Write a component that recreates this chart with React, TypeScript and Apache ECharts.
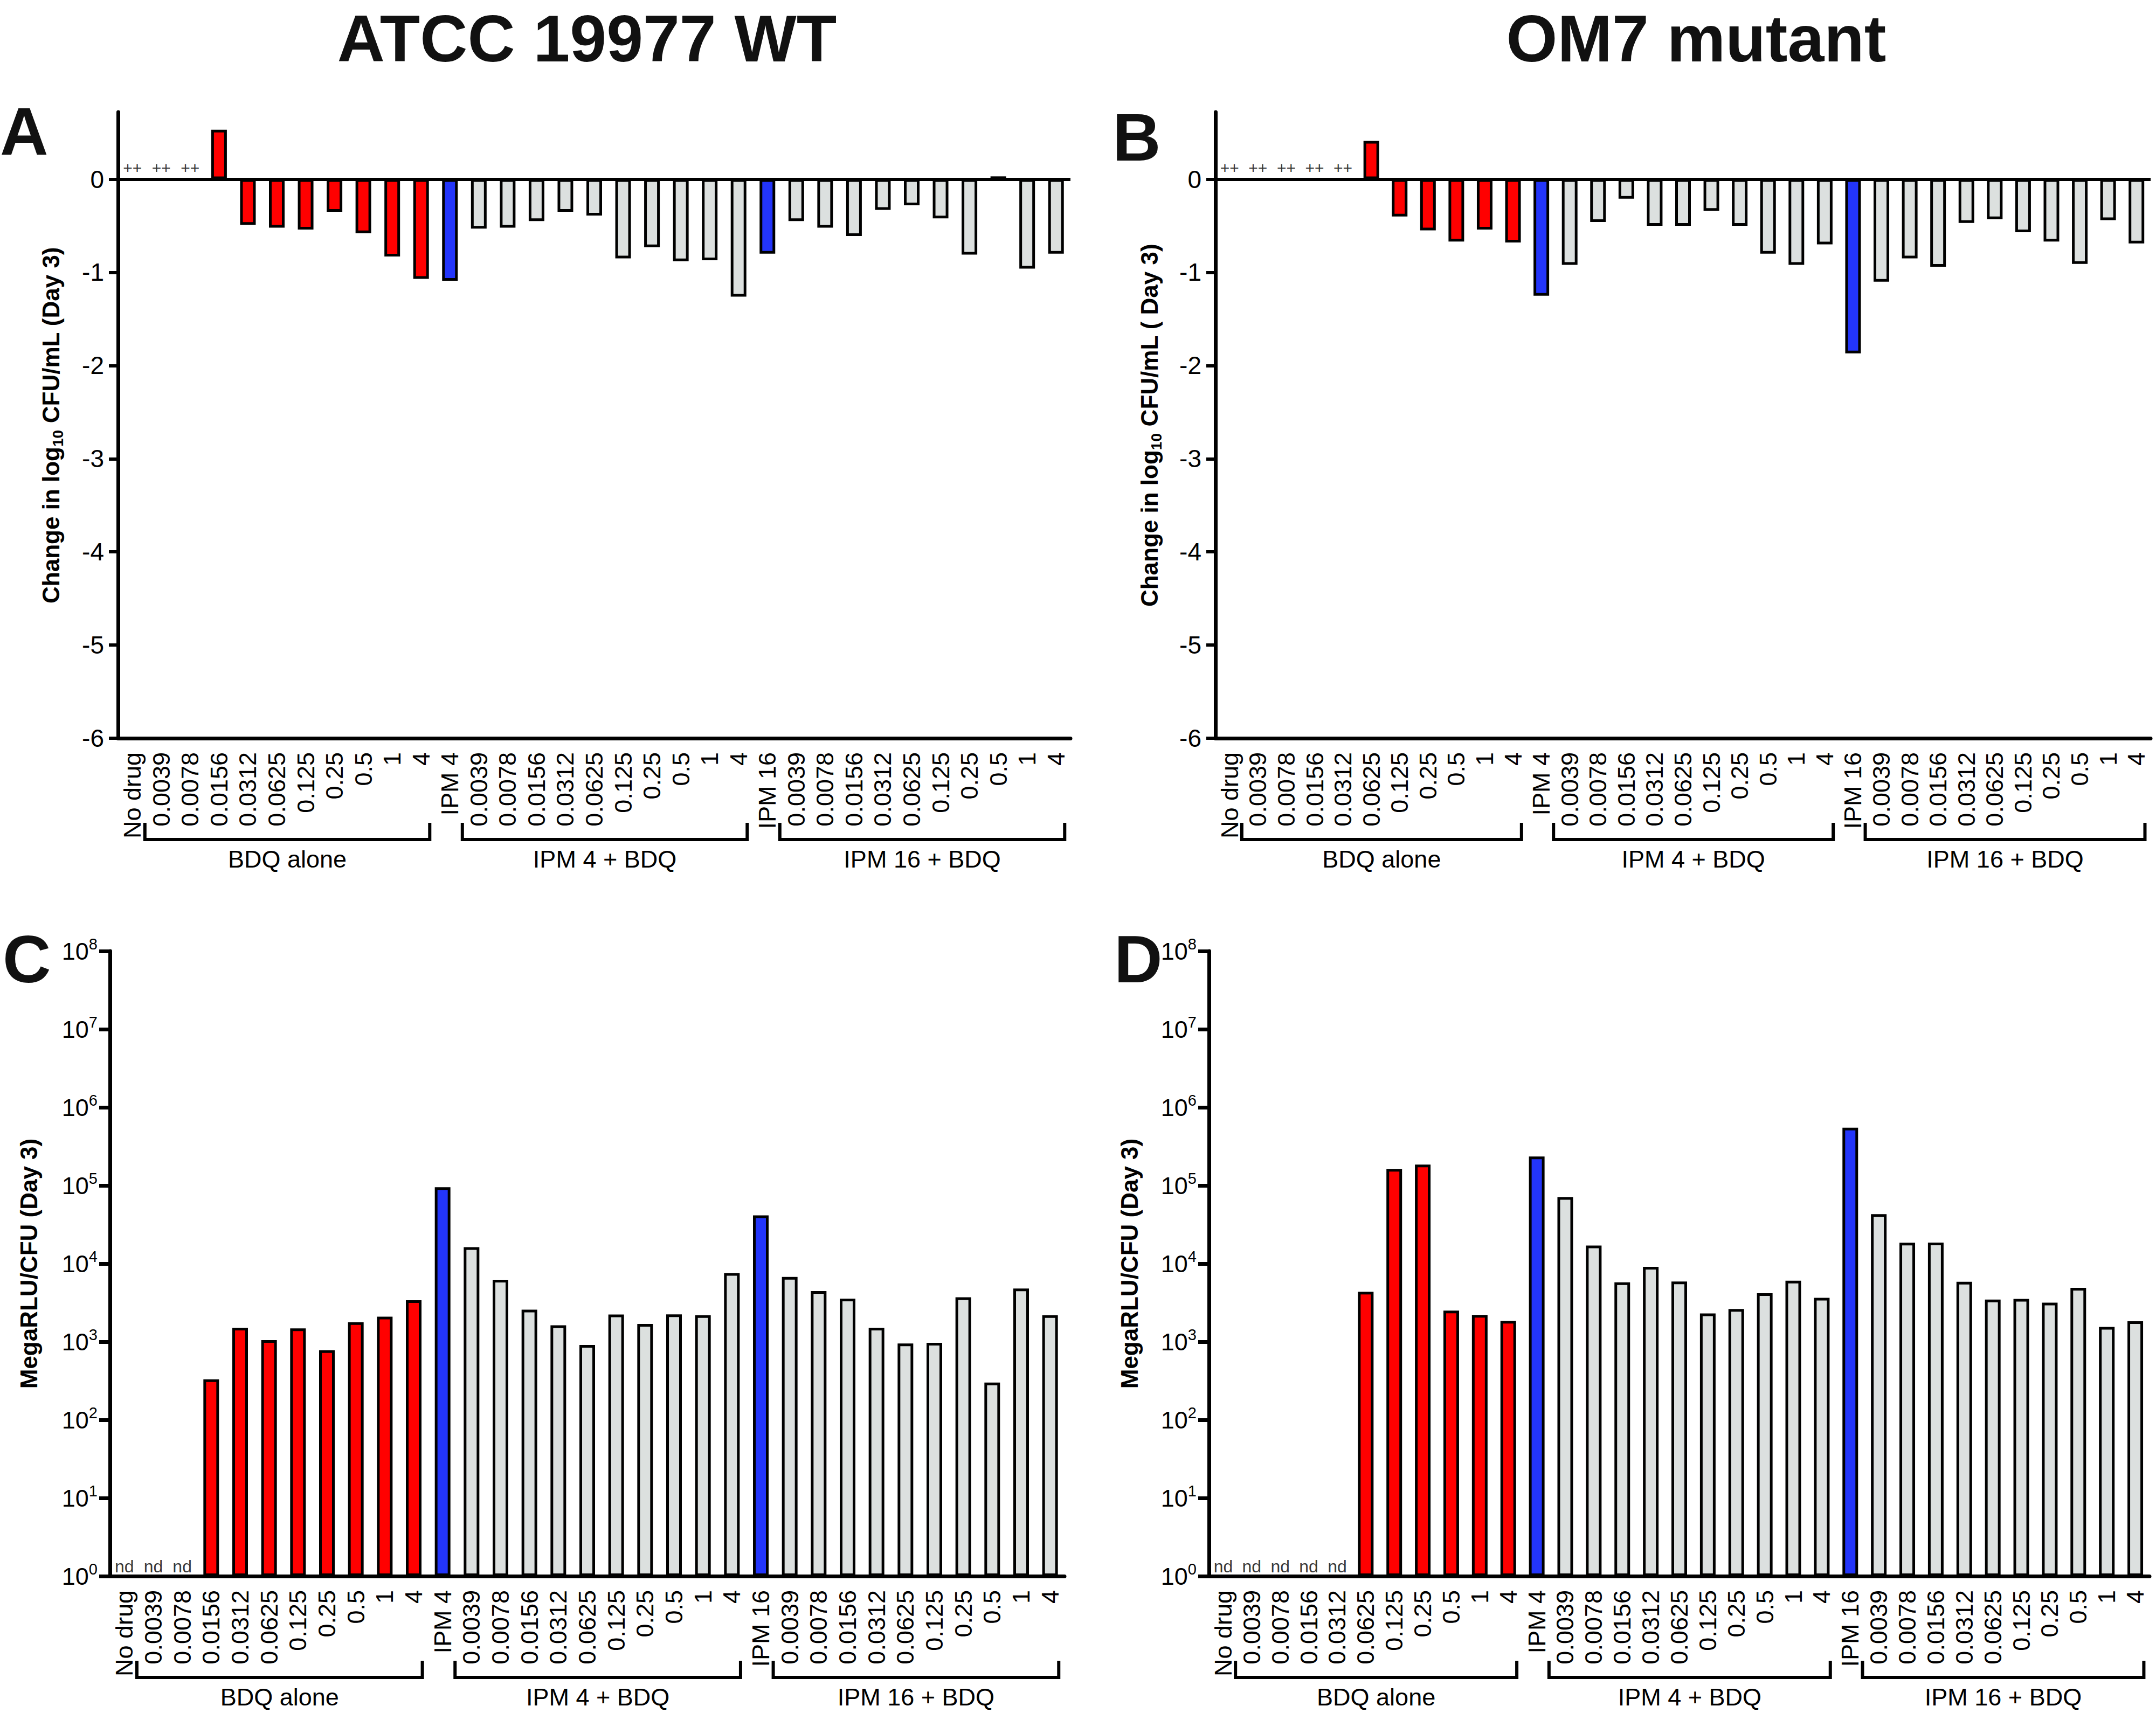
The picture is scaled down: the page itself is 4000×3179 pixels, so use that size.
import React, { useEffect, useRef } from 'react';
import * as echarts from 'echarts';

// ---------- data ----------
const CATEGORIES = [
  'No drug', '0.0039', '0.0078', '0.0156', '0.0312', '0.0625', '0.125', '0.25', '0.5', '1', '4',
  'IPM 4', '0.0039', '0.0078', '0.0156', '0.0312', '0.0625', '0.125', '0.25', '0.5', '1', '4',
  'IPM 16', '0.0039', '0.0078', '0.0156', '0.0312', '0.0625', '0.125', '0.25', '0.5', '1', '4',
];

// kind of treatment per category (drives the colour)
const BAR_KIND = [
  'ctrl', 'bdq', 'bdq', 'bdq', 'bdq', 'bdq', 'bdq', 'bdq', 'bdq', 'bdq', 'bdq',
  'ipm', 'combo', 'combo', 'combo', 'combo', 'combo', 'combo', 'combo', 'combo', 'combo', 'combo',
  'ipm', 'combo', 'combo', 'combo', 'combo', 'combo', 'combo', 'combo', 'combo', 'combo', 'combo',
];

// Panel A: ATCC 19977 WT, change in log10 CFU/mL (Day 3)
const A_VALUES = [
  null, null, null, 0.53, -0.49, -0.52, -0.54, -0.35, -0.58, -0.83, -1.07,
  -1.09, -0.53, -0.52, -0.45, -0.35, -0.39, -0.85, -0.73, -0.88, -0.87, -1.26,
  -0.80, -0.45, -0.52, -0.61, -0.33, -0.28, -0.42, -0.81, 0.03, -0.96, -0.80,
];
const A_MARKS = ['++', '++', '++'];

// Panel B: OM7 mutant, change in log10 CFU/mL (Day 3)
const B_VALUES = [
  null, null, null, null, null, 0.41, -0.40, -0.55, -0.67, -0.54, -0.68,
  -1.25, -0.92, -0.46, -0.21, -0.50, -0.50, -0.34, -0.50, -0.80, -0.92, -0.70,
  -1.87, -1.10, -0.85, -0.94, -0.47, -0.43, -0.57, -0.67, -0.91, -0.44, -0.69,
];
const B_MARKS = ['++', '++', '++', '++', '++'];

// Panel C: ATCC 19977 WT, MegaRLU/CFU (Day 3)
const C_VALUES = [
  null, null, null, 330, 1510, 1050, 1480, 780, 1780, 2090, 3390,
  95000, 16200, 6200, 2570, 1620, 910, 2230, 1690, 2240, 2190, 7580,
  41500, 6760, 4450, 3560, 1510, 950, 970, 3700, 300, 4800, 2190,
];
const C_MARKS = ['nd', 'nd', 'nd'];

// Panel D: OM7 mutant, MegaRLU/CFU (Day 3)
const D_VALUES = [
  null, null, null, null, null, 4370, 163000, 185000, 2500, 2200, 1850,
  235000, 71000, 17000, 5760, 9100, 5890, 2300, 2620, 4170, 6030, 3650,
  550000, 43000, 18500, 18600, 5860, 3460, 3540, 3160, 4900, 1550, 1830,
];
const D_MARKS = ['nd', 'nd', 'nd', 'nd', 'nd'];

const GROUPS = [
  { label: 'BDQ alone', from: 1, to: 10 },
  { label: 'IPM 4 + BDQ', from: 12, to: 21 },
  { label: 'IPM 16 + BDQ', from: 23, to: 32 },
];

const LIN_TICKS = [-6, -5, -4, -3, -2, -1, 0];
const STRAIN_TITLES = ['ATCC 19977 WT', 'OM7 mutant'];
const PANEL_LETTERS = ['A', 'B', 'C', 'D'];

// ---------- styles ----------
const FONT = "'Liberation Sans', Arial, Helvetica, sans-serif";
const COLORS: Record<string, string> = {
  bdq: '#FF0000',
  ipm: '#2335FA',
  combo: '#DCE0DF',
  ctrl: '#DCE0DF',
};

const PANELS = [
  { values: A_VALUES, marks: A_MARKS, log: false, grid: { left: 219, top: 208, width: 1767, height: 1162 }, name: 'Change in log{sub|10} CFU/mL (Day 3)', nameGap: 98 },
  { values: B_VALUES, marks: B_MARKS, log: false, grid: { left: 2255, top: 208, width: 1735, height: 1162 }, name: 'Change in log{sub|10} CFU/mL ( Day 3)', nameGap: 96 },
  { values: C_VALUES, marks: C_MARKS, log: true, grid: { left: 204, top: 1765, width: 1771, height: 1160 }, name: 'MegaRLU/CFU (Day 3)', nameGap: 124 },
  { values: D_VALUES, marks: D_MARKS, log: true, grid: { left: 2243, top: 1765, width: 1745, height: 1160 }, name: 'MegaRLU/CFU (Day 3)', nameGap: 121 },
];

const LETTER_POS = [
  { x: 0, y: 244 },
  { x: 2064, y: 255 },
  { x: 5, y: 1780 },
  { x: 2067, y: 1780 },
];
const TITLE_POS = [
  { x: 1089, y: 72 },
  { x: 3147, y: 72 },
];

function buildOption() {
  const grid = PANELS.map((p) => ({ ...p.grid, containLabel: false }));
  const xAxis = PANELS.map((p, i) => ({
    type: 'category',
    gridIndex: i,
    data: CATEGORIES,
    axisLine: { onZero: false, lineStyle: { color: '#000', width: 7 } },
    axisTick: { alignWithLabel: true, length: 17, lineStyle: { color: '#000', width: 6 } },
    axisLabel: {
      interval: 0,
      rotate: 90,
      fontSize: 45,
      color: '#000',
      fontFamily: FONT,
      margin: 26,
    },
    splitLine: { show: false },
  }));

  const nameTextStyle = {
    fontSize: 44,
    fontWeight: 'bold',
    color: '#000',
    fontFamily: FONT,
    lineHeight: 54,
    rich: {
      sub: { fontSize: 28, fontWeight: 'bold', fontFamily: FONT, color: '#000', verticalAlign: 'bottom', lineHeight: 30 },
    },
  };

  const yAxis = PANELS.map((p, i) => {
    const common = {
      gridIndex: i,
      name: p.name,
      nameLocation: 'middle',
      nameRotate: 90,
      nameGap: p.nameGap,
      nameTextStyle,
      axisLine: { show: true, lineStyle: { color: '#000', width: 7 } },
      splitLine: { show: false },
    };
    if (!p.log) {
      return {
        ...common,
        type: 'value',
        min: -6,
        max: 0.72,
        interval: 1,
        axisTick: { show: true, length: 17, lineStyle: { color: '#000', width: 6 }, customValues: LIN_TICKS },
        axisLabel: {
          customValues: LIN_TICKS,
          fontSize: 46,
          color: '#000',
          fontFamily: FONT,
          margin: 26,
          formatter: (v: number) => String(v),
        },
      };
    }
    return {
      ...common,
      type: 'log',
      logBase: 10,
      min: 1,
      max: 1e8,
      splitNumber: 8,
      minorTick: { show: false },
      axisTick: { show: true, length: 20, lineStyle: { color: '#000', width: 7 } },
      axisLabel: {
        color: '#000',
        fontFamily: FONT,
        margin: 23,
        formatter: (v: number) => `{b|10}{s|${Math.round(Math.log10(v))}}`,
        rich: {
          b: { fontSize: 45, fontFamily: FONT, color: '#000', lineHeight: 56 },
          s: { fontSize: 29, fontFamily: FONT, color: '#000', verticalAlign: 'top', lineHeight: 30 },
        },
      },
    };
  });

  const series: any[] = [];
  PANELS.forEach((p, i) => {
    const bar: any = {
      type: 'bar',
      xAxisIndex: i,
      yAxisIndex: i,
      barWidth: 29,
      itemStyle: { borderColor: '#000', borderWidth: 5 },
      data: p.values.map((v, j) =>
        v == null ? '-' : { value: v, itemStyle: { color: COLORS[BAR_KIND[j]] } }
      ),
      emphasis: { disabled: true },
      silent: true,
    };
    if (!p.log) {
      bar.markLine = {
        silent: true,
        symbol: ['none', 'none'],
        label: { show: false },
        lineStyle: { color: '#000', width: 6, type: 'solid' },
        data: [{ yAxis: 0 }],
      };
    }
    series.push(bar);
    const base = p.log ? 1 : 0;
    series.push({
      type: 'scatter',
      xAxisIndex: i,
      yAxisIndex: i,
      symbolSize: 1,
      itemStyle: { color: 'rgba(0,0,0,0)' },
      silent: true,
      data: CATEGORIES.map((_, j) => (p.marks[j] ? base : '-')),
      label: {
        show: true,
        position: 'top',
        distance: p.log ? 2 : 6,
        fontSize: p.log ? 32 : 30,
        color: '#000',
        fontFamily: FONT,
        formatter: (prm: any) => p.marks[prm.dataIndex] || '',
      },
    });
  });

  return {
    animation: false,
    backgroundColor: '#fff',
    textStyle: { fontFamily: FONT },
    grid,
    xAxis,
    yAxis,
    series,
  };
}

export default function App() {
  const ref = useRef<HTMLDivElement>(null);
  useEffect(() => {
    document.body.style.margin = '0';
    if (!ref.current) return;
    const chart = echarts.init(ref.current, null, { renderer: 'svg' });
    chart.setOption(buildOption() as any);

    const graphic: any[] = [];
    STRAIN_TITLES.forEach((t, i) => {
      graphic.push({
        type: 'text',
        x: TITLE_POS[i].x,
        y: TITLE_POS[i].y,
        style: {
          text: t,
          fontSize: 122,
          fontWeight: 'bold',
          fontFamily: FONT,
          fill: '#111',
          textAlign: 'center',
          textVerticalAlign: 'middle',
        },
      });
    });
    PANEL_LETTERS.forEach((t, i) => {
      graphic.push({
        type: 'text',
        x: LETTER_POS[i].x,
        y: LETTER_POS[i].y,
        style: {
          text: t,
          fontSize: 124,
          fontWeight: 'bold',
          fontFamily: FONT,
          fill: '#111',
          textAlign: 'left',
          textVerticalAlign: 'middle',
        },
      });
    });

    PANELS.forEach((p, pi) => {
      const axisY = p.grid.top + p.grid.height;
      const band = p.grid.width / CATEGORIES.length;
      const yBase = p.log ? 1 : 0;
      GROUPS.forEach((g) => {
        const xa = (chart.convertToPixel({ gridIndex: pi } as any, [g.from, yBase]) as number[])[0];
        const xb = (chart.convertToPixel({ gridIndex: pi } as any, [g.to, yBase]) as number[])[0];
        const x1 = xa - 0.57 * band;
        const x2 = xb + 0.3 * band;
        const yl = axisY + 188;
        graphic.push({
          type: 'polyline',
          shape: { points: [[x1, yl - 31], [x1, yl], [x2, yl], [x2, yl - 31]] },
          style: { stroke: '#000', lineWidth: 6, fill: null },
          silent: true,
        });
        graphic.push({
          type: 'text',
          x: (x1 + x2) / 2,
          y: axisY + 224,
          style: {
            text: g.label,
            fontSize: 45,
            fontFamily: FONT,
            fill: '#000',
            textAlign: 'center',
            textVerticalAlign: 'middle',
          },
          silent: true,
        });
      });
    });

    chart.setOption({ graphic });
    return () => {
      chart.dispose();
    };
  }, []);

  return <div ref={ref} style={{ width: 4000, height: 3179 }} />;
}
